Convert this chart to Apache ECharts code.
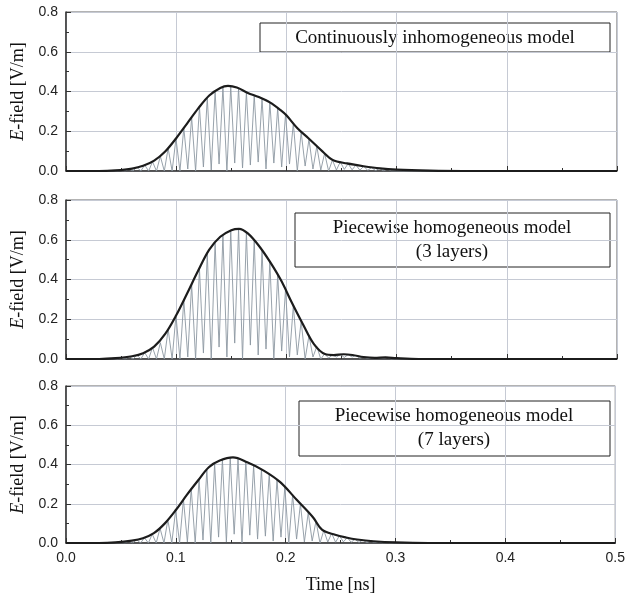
<!DOCTYPE html>
<html>
<head>
<meta charset="utf-8">
<script src="https://cdn.jsdelivr.net/npm/echarts@6/dist/echarts.min.js"></script>
<style>
html, body { margin: 0; padding: 0; background: #fff; }
#chart { width: 628px; height: 595px; }
</style>
</head>
<body>
<div id="chart"></div>
<script>
// Pulse envelopes (thick black) for the three models
const envT1 = [0, 0.03, 0.045, 0.06, 0.07, 0.08, 0.09, 0.1, 0.11, 0.12, 0.13, 0.14, 0.147, 0.155, 0.165, 0.175, 0.185, 0.195, 0.2, 0.21, 0.22, 0.234, 0.242, 0.255, 0.27, 0.285, 0.3, 0.33, 0.36, 0.5];
const envV1 = [0, 0, 0.003, 0.012, 0.026, 0.052, 0.098, 0.165, 0.24, 0.315, 0.38, 0.418, 0.428, 0.42, 0.393, 0.372, 0.345, 0.305, 0.28, 0.215, 0.165, 0.092, 0.055, 0.038, 0.024, 0.013, 0.007, 0.002, 0, 0];

const envT2 = [0, 0.03, 0.045, 0.06, 0.07, 0.08, 0.09, 0.1, 0.11, 0.12, 0.13, 0.14, 0.15, 0.157, 0.165, 0.175, 0.185, 0.195, 0.205, 0.215, 0.225, 0.235, 0.243, 0.252, 0.26, 0.27, 0.28, 0.29, 0.3, 0.32, 0.5];
const envV2 = [0, 0, 0.004, 0.014, 0.029, 0.062, 0.126, 0.22, 0.331, 0.445, 0.55, 0.615, 0.648, 0.655, 0.632, 0.57, 0.49, 0.397, 0.283, 0.175, 0.075, 0.025, 0.02, 0.024, 0.02, 0.01, 0.006, 0.008, 0.004, 0, 0];

const envT3 = [0, 0.03, 0.045, 0.06, 0.07, 0.08, 0.09, 0.1, 0.11, 0.12, 0.13, 0.14, 0.152, 0.165, 0.18, 0.195, 0.21, 0.225, 0.233, 0.245, 0.255, 0.265, 0.28, 0.3, 0.33, 0.5];
const envV3 = [0, 0, 0.003, 0.012, 0.024, 0.05, 0.1, 0.168, 0.245, 0.317, 0.386, 0.42, 0.436, 0.411, 0.369, 0.31, 0.22, 0.13, 0.068, 0.042, 0.028, 0.018, 0.009, 0.003, 0, 0];

// Rectified field (thin gray): times of the zeros and crests
const dipT = [0.0395, 0.0466, 0.0537, 0.0608, 0.0679, 0.0750, 0.0821, 0.0892, 0.0963, 0.1034, 0.1105, 0.1176, 0.1247, 0.1318, 0.1389, 0.1460, 0.1531, 0.1602, 0.1673, 0.1744, 0.1815, 0.1886, 0.1957, 0.2028, 0.2099, 0.2170, 0.2241, 0.2312, 0.2383, 0.2454, 0.2525, 0.2596, 0.2667, 0.2738, 0.2809, 0.2880, 0.2951];
const peakT = [0.0430, 0.0501, 0.0572, 0.0643, 0.0714, 0.0785, 0.0856, 0.0927, 0.0998, 0.1069, 0.1140, 0.1211, 0.1282, 0.1353, 0.1424, 0.1495, 0.1566, 0.1637, 0.1708, 0.1779, 0.1850, 0.1921, 0.1992, 0.2063, 0.2134, 0.2205, 0.2276, 0.2347, 0.2418, 0.2489, 0.2560, 0.2631, 0.2702, 0.2773, 0.2844, 0.2915];

const dipV1 = [0, 0, 0, 0, 0, 0, 0, 0, 0, 0, 0.01, 0, 0.02, 0.005, 0.035, 0, 0.04, 0.015, 0.03, 0.045, 0.01, 0.04, 0.02, 0.035, 0, 0.025, 0.01, 0.005, 0, 0.005, 0.008, 0.006, 0.004, 0.003, 0.002, 0.001, 0];
const peakV1 = [0.002, 0.005, 0.01, 0.019, 0.03, 0.047, 0.074, 0.114, 0.163, 0.217, 0.27, 0.322, 0.367, 0.4, 0.421, 0.426, 0.417, 0.396, 0.38, 0.364, 0.345, 0.317, 0.284, 0.24, 0.195, 0.16, 0.124, 0.089, 0.055, 0.046, 0.037, 0.03, 0.024, 0.018, 0.013, 0.01];

const dipV2 = [0, 0, 0, 0, 0, 0, 0, 0, 0, 0, 0.01, 0, 0.03, 0, 0.06, 0.01, 0.08, 0, 0.07, 0.02, 0.05, 0, 0.04, 0.01, 0.02, 0, 0.01, 0, 0.005, 0.01, 0.008, 0.01, 0.004, 0.003, 0.002, 0.003, 0];
const peakV2 = [0.003, 0.007, 0.012, 0.02, 0.032, 0.058, 0.082, 0.15, 0.218, 0.295, 0.375, 0.455, 0.53, 0.585, 0.622, 0.647, 0.655, 0.636, 0.597, 0.546, 0.49, 0.425, 0.35, 0.268, 0.19, 0.118, 0.063, 0.026, 0.02, 0.023, 0.022, 0.017, 0.01, 0.007, 0.006, 0.008];

const dipV3 = [0, 0, 0, 0, 0, 0, 0, 0, 0, 0, 0.005, 0, 0.015, 0, 0.03, 0.005, 0.045, 0, 0.04, 0.02, 0.035, 0.01, 0.03, 0, 0.02, 0.005, 0.01, 0, 0.005, 0.004, 0.006, 0.004, 0.003, 0.002, 0.002, 0.001, 0];
const peakV3 = [0.002, 0.005, 0.01, 0.017, 0.027, 0.045, 0.075, 0.118, 0.166, 0.222, 0.276, 0.325, 0.372, 0.403, 0.424, 0.434, 0.428, 0.414, 0.395, 0.375, 0.352, 0.322, 0.285, 0.245, 0.2, 0.155, 0.112, 0.064, 0.049, 0.037, 0.027, 0.02, 0.015, 0.01, 0.007, 0.005];

const yTicks = [0, 0.2, 0.4, 0.6, 0.8];
const xTicks = [0, 0.1, 0.2, 0.3, 0.4, 0.5];

const panels = [
    { top: 12, env: [envT1, envV1], dip: dipV1, peak: peakV1 },
    { top: 200, env: [envT2, envV2], dip: dipV2, peak: peakV2 },
    { top: 386, env: [envT3, envV3], dip: dipV3, peak: peakV3 }
];

function pairs(ts, vs) {
    return ts.map((t, i) => [t, vs[i]]);
}

// zero, crest, zero, crest ... in time order
function carrier(dips, peaks) {
    const out = [[0, 0]];
    dips.forEach((v, i) => {
        out.push([dipT[i], v]);
        if (i < peaks.length) out.push([peakT[i], peaks[i]]);
    });
    out.push([0.5, 0]);
    return out;
}

const serif = '"Liberation Serif", "Times New Roman", serif';
const sans = '"Liberation Sans", Arial, sans-serif';

const chart = echarts.init(document.getElementById('chart'));

const option = {
    animation: false,
    grid: panels.map(p => ({
        left: 66, right: 11, top: p.top, height: 159,
        show: true, borderColor: '#666', borderWidth: 1, backgroundColor: 'transparent'
    })),
    xAxis: panels.map((p, i) => ({
        type: 'value', gridIndex: i,
        min: xTicks[0], max: xTicks[xTicks.length - 1], interval: 0.1,
        axisLine: { show: true, onZero: false, lineStyle: { color: '#333', width: 1.5 } },
        axisTick: { show: true, inside: true, length: 5, lineStyle: { color: '#333' } },
        minorTick: { show: true, splitNumber: 2, length: 3, lineStyle: { color: '#333' } },
        splitLine: { show: true, lineStyle: { color: '#c6cad4', width: 1 } },
        axisLabel: {
            show: i === 2, margin: 8, fontFamily: sans, fontSize: 14, color: '#222',
            formatter: v => v.toFixed(1)
        },
        name: i === 2 ? 'Time [ns]' : '',
        nameLocation: 'middle', nameGap: 33,
        nameTextStyle: { fontFamily: serif, fontSize: 18, color: '#111' }
    })),
    yAxis: panels.map((p, i) => ({
        type: 'value', gridIndex: i,
        min: yTicks[0], max: yTicks[yTicks.length - 1], interval: 0.2,
        axisLine: { show: true, lineStyle: { color: '#333', width: 1.5 } },
        axisTick: { show: true, inside: true, length: 5, lineStyle: { color: '#333' } },
        minorTick: { show: true, splitNumber: 2, length: 3, lineStyle: { color: '#333' } },
        splitLine: { show: true, lineStyle: { color: '#c6cad4', width: 1 } },
        axisLabel: {
            margin: 8, fontFamily: sans, fontSize: 14, color: '#222',
            showMinLabel: true, showMaxLabel: true,
            formatter: v => v.toFixed(1)
        },
        name: '{i|E}-field [V/m]',
        nameLocation: 'middle', nameGap: 38, nameRotate: 90,
        nameTextStyle: {
            fontFamily: serif, fontSize: 18, color: '#111',
            rich: { i: { fontFamily: serif, fontSize: 18, fontStyle: 'italic', color: '#111' } }
        }
    })),
    series: panels.flatMap((p, i) => [
        {
            type: 'line', xAxisIndex: i, yAxisIndex: i,
            data: carrier(p.dip, p.peak),
            showSymbol: false, silent: true,
            lineStyle: { color: '#8c97a2', width: 0.9 }
        },
        {
            type: 'line', xAxisIndex: i, yAxisIndex: i,
            data: pairs(p.env[0], p.env[1]),
            showSymbol: false, silent: true,
            smooth: 0.35,
            lineStyle: { color: '#1c1c1c', width: 2.2 }
        }
    ]),
    graphic: [
        {
            type: 'group', z: 100, children: [
                { type: 'rect', shape: { x: 260, y: 23, width: 350, height: 29 },
                  style: { fill: '#fff', stroke: '#222', lineWidth: 1 } },
                { type: 'text', style: { x: 435, y: 38, text: 'Continuously inhomogeneous model',
                  font: '19px ' + serif, align: 'center', verticalAlign: 'middle', fill: '#111' } }
            ]
        },
        {
            type: 'group', z: 100, children: [
                { type: 'rect', shape: { x: 295, y: 213, width: 315, height: 54 },
                  style: { fill: '#fff', stroke: '#222', lineWidth: 1 } },
                { type: 'text', style: { x: 452, y: 240, text: 'Piecewise homogeneous model\n(3 layers)',
                  font: '19px ' + serif, lineHeight: 24, align: 'center', verticalAlign: 'middle', fill: '#111' } }
            ]
        },
        {
            type: 'group', z: 100, children: [
                { type: 'rect', shape: { x: 299, y: 401, width: 311, height: 55 },
                  style: { fill: '#fff', stroke: '#222', lineWidth: 1 } },
                { type: 'text', style: { x: 454, y: 428, text: 'Piecewise homogeneous model\n(7 layers)',
                  font: '19px ' + serif, lineHeight: 24, align: 'center', verticalAlign: 'middle', fill: '#111' } }
            ]
        }
    ]
};

chart.setOption(option);
</script>
</body>
</html>
